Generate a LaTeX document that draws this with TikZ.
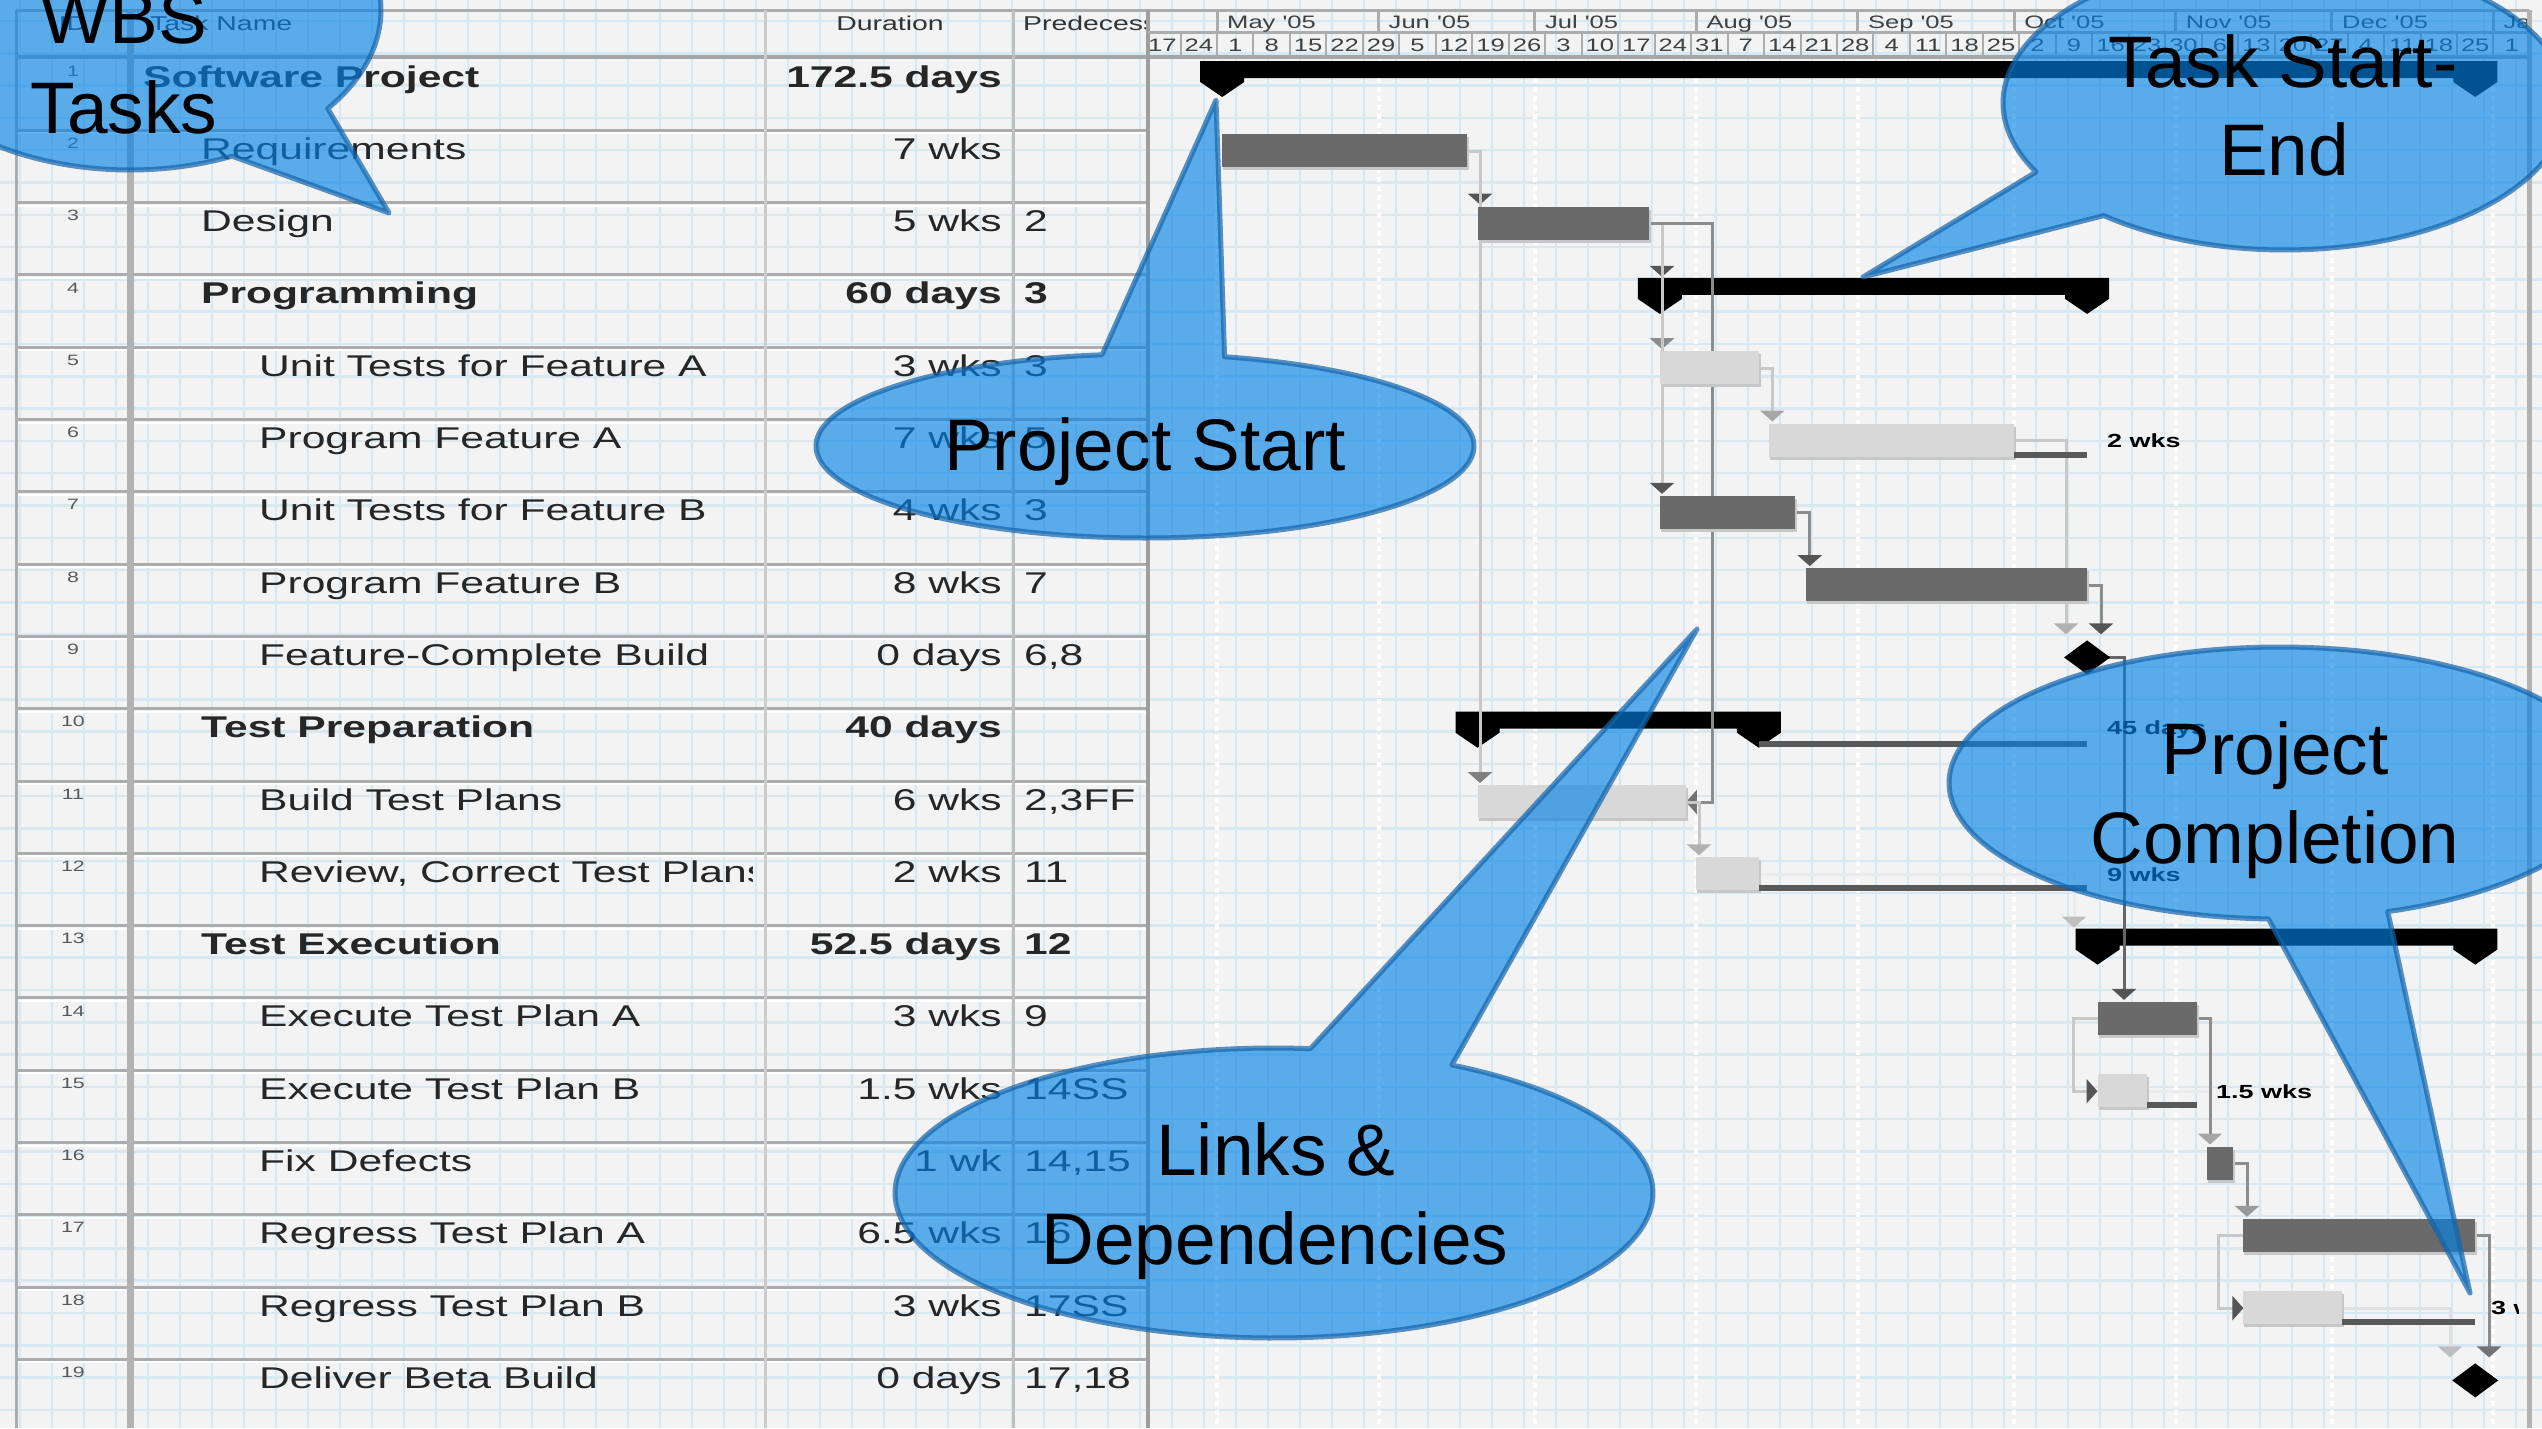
\documentclass[tikz,border=0pt]{standalone}
\usepackage{fontspec}
\setmainfont{Liberation Sans}
\newfontfamily\gridfont[FakeStretch=1.42]{Liberation Sans}
\usetikzlibrary{arrows.meta}

\definecolor{paper}{RGB}{243,243,243}
\definecolor{gridblue}{RGB}{214,232,242}
\definecolor{rule}{RGB}{172,172,172}
\definecolor{barDark}{RGB}{106,106,106}
\definecolor{barLight}{RGB}{216,216,216}
\definecolor{linkLight}{RGB}{200,200,200}
\definecolor{linkDark}{RGB}{140,140,140}
\definecolor{tipDark}{RGB}{85,85,85}
\definecolor{calloutBlue}{RGB}{0,130,230}
\definecolor{calloutEdge}{RGB}{20,100,170}

\begin{document}
\begin{tikzpicture}[
    x=1pt, y=-1pt,
    declare function={dx(\x)=1217+5.21*\x; rt(\x)=58+72.3*(\x-1);},
    gridline/.style={draw=gridblue, line width=2.5},
    cell/.style={inner sep=0pt, text=black!85, font=\gridfont\fontsize{30}{36}\selectfont},
    bold cell/.style={cell, font=\gridfont\bfseries\fontsize{30}{36}\selectfont},
    head/.style={inner sep=0pt, text=black!80, font=\gridfont\fontsize{20}{24}\selectfont},
    scale lbl/.style={inner sep=0pt, text=black!75, font=\gridfont\fontsize{18}{22}\selectfont},
    id lbl/.style={inner sep=0pt, text=black!65, font=\gridfont\fontsize{15}{18}\selectfont},
    bar lbl/.style={inner sep=0pt, anchor=west, font=\gridfont\bfseries\fontsize{19}{22}\selectfont},
    rowline/.style={draw=rule, line width=3},
    link/.style={draw=linkLight, line width=3},
    link dark/.style={draw=linkDark, line width=3},
    slack/.style={draw=black!65, line width=6},
    ahead/.style={-{Triangle[width=24pt, length=11pt, color=#1]}},
    callout/.style={fill=calloutBlue, fill opacity=0.63, draw=calloutEdge,
      draw opacity=0.7, line width=5, line join=round},
    bubble/.style={inner sep=0pt, anchor=base, text=black, font=\fontsize{73}{88}\selectfont}
  ]

  \useasboundingbox (0,0) rectangle (2542,1428);
  \clip (0,0) rectangle (2542,1428);
  \fill[paper] (0,0) rectangle (2542,1428);

  % graph paper
  \foreach \i in {0,...,79}
    \draw[gridline] ({20+32*\i},0) -- ({20+32*\i},1428);
  \foreach \j in {0,...,43}
    \draw[gridline] (0,{21+32.3*\j}) -- (2542,{21+32.3*\j});

  % ---- table ----
  \foreach \row in {2,...,19}{
    \draw[rowline] (16,{rt(\row)}) -- (1148,{rt(\row)});
    \draw[white, line width=2] (16,{rt(\row)+3}) -- (1148,{rt(\row)+3});
  }
  \draw[rule, line width=3] (16,10) -- (2529,10);
  \draw[black!35, line width=4] (16,57) -- (2529,57);
  \draw[rule, line width=3] (16,10) -- (16,1428);
  \draw[black!30, line width=7] (130,10) -- (130,1428);
  \draw[black!20, line width=3] (765,10) -- (765,1428);
  \draw[black!25, line width=3] (1013,10) -- (1013,1428);
  \draw[black!38, line width=4] (1148,10) -- (1148,1428);

  \node[head, anchor=base] (hid) at (73,30) {ID};
  \node[head, anchor=base west] (hname) at (150,30) {Task Name};
  \node[head, anchor=base] (hdur) at (890,30) {Duration};
  \begin{scope}
    \clip (1015,10) rectangle (1145,57);
    \node[head, anchor=base west] (hpred) at (1023,30) {Predecessors};
  \end{scope}

  \foreach \row/\xx/\name/\dur/\pred/\sty in {
      1/143/Software Project/172.5 days/{}/bold cell,
      2/201/Requirements/7 wks/{}/cell,
      3/201/Design/5 wks/2/cell,
      4/201/Programming/60 days/3/bold cell,
      5/259/Unit Tests for Feature A/3 wks/3/cell,
      6/259/Program Feature A/7 wks/5/cell,
      7/259/Unit Tests for Feature B/4 wks/3/cell,
      8/259/Program Feature B/8 wks/7/cell,
      9/259/Feature-Complete Build/0 days/{6,8}/cell,
      10/201/Test Preparation/40 days/{}/bold cell,
      11/259/Build Test Plans/6 wks/{2,3FF}/cell,
      12/259/{Review, Correct Test Plans}/2 wks/11/cell,
      13/201/Test Execution/52.5 days/12/bold cell,
      14/259/Execute Test Plan A/3 wks/9/cell,
      15/259/Execute Test Plan B/1.5 wks/14SS/cell,
      16/259/Fix Defects/1 wk/{14,15}/cell,
      17/259/Regress Test Plan A/6.5 wks/16/cell,
      18/259/Regress Test Plan B/3 wks/17SS/cell,
      19/259/Deliver Beta Build/0 days/{17,18}/cell}{
    \node[id lbl] (id\row) at (73,{rt(\row)+13}) {\row};
    \begin{scope}
      \clip (134,{rt(\row)}) rectangle (752,{rt(\row)+72});
      \node[\sty, anchor=base west] (task\row) at (\xx,{rt(\row)+29}) {\name};
    \end{scope}
    \node[\sty, anchor=base east] (dur\row) at (1002,{rt(\row)+29}) {\dur};
    \node[\sty, anchor=base west] (pred\row) at (1024,{rt(\row)+29}) {\pred};
  }

  % ---- timescale ----
  \draw[rule, line width=3] (1148,32) -- (2529,32);
  \foreach \d in {0,31,61,92,123,153,184,214,245}{
    \draw[rule, line width=3] ({dx(\d)},10) -- ({dx(\d)},32);
    \draw[white, line width=4, dash pattern=on 5pt off 4pt] ({dx(\d)},60) -- ({dx(\d)},1428);
  }
  \begin{scope}
    \clip (1150,10) rectangle (2526,57);
    \foreach \k in {0,...,38}
      \draw[rule, line width=2] ({dx(7*\k-14)},32) -- ({dx(7*\k-14)},57);
    \foreach \lbl [count=\k from 0] in {17,24,1,8,15,22,29,5,12,19,26,3,10,17,24,31,7,14,21,
        28,4,11,18,25,2,9,16,23,30,6,13,20,27,4,11,18,25,1}
      \node[scale lbl] (wk\k) at ({dx(7*\k-10.5)},45) {\lbl};
    \foreach \m/\d in {May '05/0, Jun '05/31, Jul '05/61, Aug '05/92, Sep '05/123,
        Oct '05/153, Nov '05/184, Dec '05/214, Jan '06/245}
      \node[scale lbl, anchor=base west] (mon\d) at ({dx(\d)+10},28) {\m};
  \end{scope}
  \draw[black!30, line width=5] (2529,10) -- (2529,1428);

  % ---- summary bars ----
  \foreach \row/\st/\en in {1/1/241.5, 4/85/167, 10/50/104, 13/169/241.5}
    \fill[black] ({dx(\st)-22},{rt(\row)+3}) -- ({dx(\en)+22},{rt(\row)+3})
      -- ({dx(\en)+22},{rt(\row)+24}) -- ({dx(\en)},{rt(\row)+39}) -- ({dx(\en)-22},{rt(\row)+24})
      -- ({dx(\en)-22},{rt(\row)+20}) -- ({dx(\st)+22},{rt(\row)+20})
      -- ({dx(\st)+22},{rt(\row)+24}) -- ({dx(\st)},{rt(\row)+39}) -- ({dx(\st)-22},{rt(\row)+24}) -- cycle;

  % ---- links ----
  \draw[link, ahead=tipDark] ({dx(48)},{rt(2)+21}) -| (1480,{rt(3)+2});
  \draw[link, ahead=black!50] ({dx(48)},{rt(2)+21}) -| (1480,{rt(11)+2});
  \draw[link, ahead=tipDark] ({dx(83)},{rt(3)+21}) -| (1662,{rt(4)+2});
  \draw[link, ahead=black!45] ({dx(83)},{rt(3)+21}) -| (1662,{rt(5)+2});
  \draw[link, ahead=tipDark] ({dx(83)},{rt(3)+21}) -| (1662,{rt(7)+2});
  \draw[link dark, ahead=black!55] ({dx(83)},{rt(3)+21}) -| (1712,{rt(11)+21}) -- ({dx(90)},{rt(11)+21});
  \draw[link, ahead=black!35] ({dx(104)},{rt(5)+21}) -| ({dx(106)+3},{rt(6)+2});
  \draw[link dark, ahead=tipDark] ({dx(111)},{rt(7)+21}) -| ({dx(113)+4},{rt(8)+2});
  \draw[link, ahead=black!30] ({dx(153)},{rt(6)+21}) -| (2066,{rt(9)-2});
  \draw[link dark, ahead=tipDark] ({dx(167)},{rt(8)+21}) -| (2101,{rt(9)-2});
  \draw[link dark, draw=black!60, ahead=tipDark] ({dx(167)+20},{rt(9)+21}) -| (2124,{rt(14)+2});
  \draw[link, ahead=black!30] ({dx(90)},{rt(11)+21}) -| (1699,{rt(12)+2});
  \draw[link, draw=black!8, ahead=black!25] ({dx(104)},{rt(12)+21}) -| (2074,{rt(13)+2});
  \draw[link, ahead=tipDark] ({dx(169)},{rt(14)+21}) -- (2073,{rt(14)+21}) |- ({dx(169)},{rt(15)+21});
  \draw[link, draw=black!8] ({dx(178.5)},{rt(15)+21}) -| (2210,{rt(16)});
  \draw[link dark, ahead=black!35] ({dx(188)},{rt(14)+21}) -| (2210,{rt(16)+2});
  \draw[link dark, ahead=black!40] ({dx(195)},{rt(16)+21}) -| (2247,{rt(17)+2});
  \draw[link, ahead=tipDark] ({dx(197)},{rt(17)+21}) -- (2218,{rt(17)+21}) |- ({dx(197)},{rt(18)+21});
  \draw[link, draw=black!12, ahead=black!25] ({dx(216)},{rt(18)+21}) -| (2450,{rt(19)-2});
  \draw[link dark, ahead=black!55] ({dx(241.5)},{rt(17)+21}) -| (2489,{rt(19)-2});

  % ---- task bars ----
  \foreach \row/\st/\en/\col in {2/1/48/barDark, 3/50/83/barDark, 5/85/104/barLight,
      6/106/153/barLight, 7/85/111/barDark, 8/113/167/barDark, 11/50/90/barLight,
      12/92/104/barLight, 14/169/188/barDark, 15/169/178.5/barLight, 16/190/195/barDark,
      17/197/241.5/barDark, 18/197/216/barLight}{
    \fill[black!22] ({dx(\st)+1},{rt(\row)+7}) rectangle ({dx(\en)+2},{rt(\row)+40});
    \fill[\col] ({dx(\st)},{rt(\row)+4}) rectangle ({dx(\en)},{rt(\row)+37});
  }

  % milestones
  \foreach \row/\d in {9/167, 19/241.5}
    \fill[black] ({dx(\d)},{rt(\row)+21}) +(-23,0) -- +(0,-17) -- +(23,0) -- +(0,17) -- cycle;

  % slack and bar labels
  \foreach \row/\st/\en in {6/153/167, 10/104/167, 12/104/167, 15/178.5/188, 18/216/241.5}
    \draw[slack] ({dx(\st)},{rt(\row)+35}) -- ({dx(\en)},{rt(\row)+35});
  \node[bar lbl] (lbl6) at (2107,{rt(6)+21}) {2 wks};
  \node[bar lbl] (lbl10) at (2107,{rt(10)+21}) {45 days};
  \node[bar lbl] (lbl12) at (2107,{rt(12)+21}) {9 wks};
  \node[bar lbl] (lbl15) at (2216,{rt(15)+21}) {1.5 wks};
  \begin{scope}
    \clip (2480,{rt(18)}) rectangle (2518,{rt(18)+50});
    \node[bar lbl] (lbl18) at (2491,{rt(18)+21}) {3 wks};
  \end{scope}

  % ---- callouts ----
  \filldraw[callout] plot[domain=66:398, samples=160] ({130+251*cos(\x)},{10+160*sin(\x)}) -- (389,213) -- cycle;
  \filldraw[callout] plot[domain=284:622.5, samples=160] ({1145+329*cos(\x)},{446+92*sin(\x)}) -- (1216,100) -- cycle;
  \filldraw[callout] plot[domain=152:490, samples=160] ({2285+282*cos(\x)},{103+147*sin(\x)}) -- (1863,277) -- cycle;
  \filldraw[callout] plot[domain=92:431, samples=160] ({2280+331*cos(\x)},{783+136*sin(\x)}) -- (2470,1293) -- cycle;
  \filldraw[callout] plot[domain=298:635.5, samples=160] ({1274+379*cos(\x)},{1193+145*sin(\x)}) -- (1697,629) -- cycle;

  \node[bubble] (wbs) at (124,43) {WBS};
  \node[bubble] (tasks) at (124,133) {Tasks};
  \node[bubble] (pstart) at (1145,470) {Project Start};
  \node[bubble] (tse1) at (2283,87) {Task Start-};
  \node[bubble] (tse2) at (2284,175) {End};
  \node[bubble] (pdone1) at (2275,774) {Project};
  \node[bubble] (pdone2) at (2275,863) {Completion};
  \node[bubble] (links1) at (1276,1175) {Links \&};
  \node[bubble] (links2) at (1275,1264) {Dependencies};
\end{tikzpicture}
\end{document}
